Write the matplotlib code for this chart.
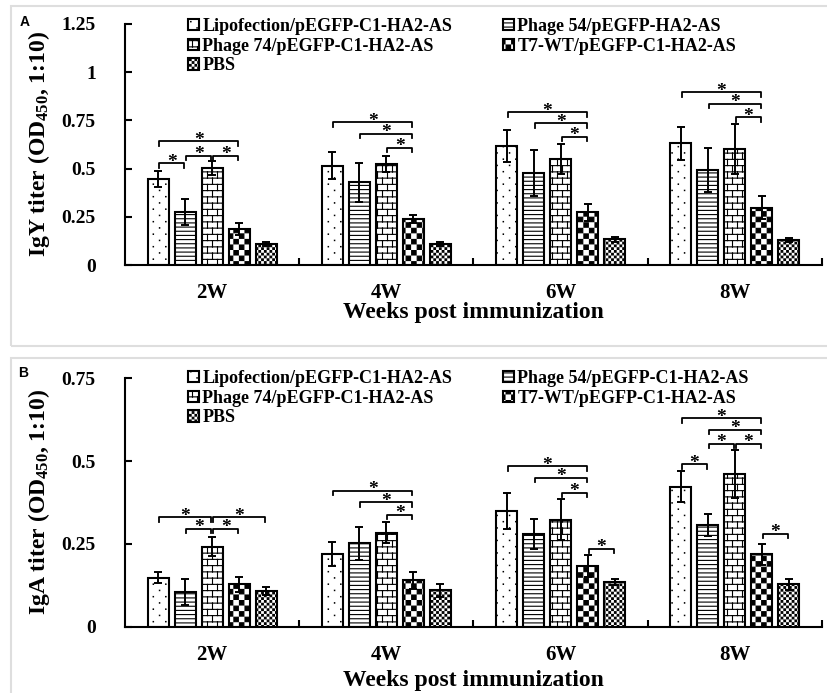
import numpy as np
import matplotlib
matplotlib.use('Agg')
import matplotlib.pyplot as plt
import matplotlib.hatch as mhatch
from matplotlib.path import Path
from matplotlib.patches import Rectangle

# ---- data ----
weeks = ['2W', '4W', '6W', '8W']
groups_a = ['Lipofection/pEGFP-C1-HA2-AS', 'Phage 54/pEGFP-HA2-AS',
            'Phage 74/pEGFP-C1-HA2-AS', 'T7-WT/pEGFP-C1-HA2-AS', 'PBS']
groups_b = ['Lipofection/pEGFP-C1-HA2-AS', 'Phage 54/pEGFP-C1-HA2-AS',
            'Phage 74/pEGFP-C1-HA2-AS', 'T7-WT/pEGFP-C1-HA2-AS', 'PBS']

# rows = groups, columns = weeks
igy_mean = [[0.446, 0.515, 0.617, 0.631],
            [0.275, 0.429, 0.479, 0.493],
            [0.503, 0.524, 0.550, 0.600],
            [0.187, 0.240, 0.273, 0.297],
            [0.107, 0.110, 0.133, 0.130]]
igy_err = [[0.040, 0.070, 0.083, 0.085],
           [0.067, 0.100, 0.120, 0.114],
           [0.037, 0.040, 0.080, 0.130],
           [0.033, 0.020, 0.043, 0.059],
           [0.010, 0.010, 0.013, 0.010]]

iga_mean = [[0.148, 0.219, 0.350, 0.423],
            [0.104, 0.252, 0.281, 0.307],
            [0.241, 0.284, 0.323, 0.461],
            [0.128, 0.140, 0.183, 0.219],
            [0.108, 0.110, 0.135, 0.128]]
iga_err = [[0.017, 0.037, 0.055, 0.046],
           [0.039, 0.050, 0.045, 0.033],
           [0.029, 0.032, 0.062, 0.073],
           [0.022, 0.025, 0.033, 0.032],
           [0.011, 0.020, 0.008, 0.017]]

# significance brackets: (week index, bar i, bar j, height)
igy_sig = [(0, 0, 1, 0.527), (0, 1, 2, 0.567), (0, 2, 3, 0.567), (0, 0, 3, 0.642),
           (1, 0, 3, 0.740), (1, 1, 3, 0.680), (1, 2, 3, 0.608),
           (2, 0, 3, 0.792), (2, 1, 3, 0.735), (2, 2, 3, 0.665),
           (3, 0, 3, 0.896), (3, 1, 3, 0.835), (3, 2, 3, 0.766)]
iga_sig = [(0, 0, 2, 0.330), (0, 2, 4, 0.330), (0, 1, 2, 0.296), (0, 2, 3, 0.296),
           (1, 0, 3, 0.411), (1, 1, 3, 0.375), (1, 2, 3, 0.338),
           (2, 0, 3, 0.484), (2, 1, 3, 0.450), (2, 2, 3, 0.405), (2, 3, 4, 0.235),
           (3, 0, 3, 0.630), (3, 1, 3, 0.595), (3, 1, 2, 0.552), (3, 2, 3, 0.552),
           (3, 0, 1, 0.491), (3, 3, 4, 0.280)]

igy_ticks = [0, 0.25, 0.5, 0.75, 1, 1.25]
igy_ticklabels = ['0', '0.25', '0.5', '0.75', '1', '1.25']
iga_ticks = [0, 0.25, 0.5, 0.75]
iga_ticklabels = ['0', '0.25', '0.5', '0.75']

hatches = ['.', '----', '|', '*', '**']

# ---- custom fill patterns (Excel-like: pin dots, bricks, checkerboards) ----
HATCH_LW = 0.8
SHRINK = HATCH_LW / 72.0


class BrickHatch(mhatch.HatchPatternBase):
    # '|' -> brick wall
    def __init__(self, hatch, density):
        n = hatch.count('|')
        self.rows = 16 * n
        self.cols = 10 * n
        self.num_vertices = 2 * (self.rows + (self.rows + 1) * self.cols) if n else 0

    def set_vertices_and_codes(self, vertices, codes):
        segs = []
        for k in range(self.rows):
            y = (k + 0.5) / self.rows
            segs.append(((0.0, y), (1.0, y)))
        for k in range(self.rows):
            y0 = (k + 0.5) / self.rows
            y1 = (k + 1.5) / self.rows
            off = 0.25 if k % 2 == 0 else 0.75
            for j in range(self.cols):
                x = (j + off) / self.cols
                if y1 > 1:
                    segs.append(((x, y0), (x, 1.0)))
                    segs.append(((x, 0.0), (x, y1 - 1)))
                else:
                    segs.append(((x, y0), (x, y1)))
        vertices[:] = np.array(segs).reshape(-1, 2)
        codes[0::2] = Path.MOVETO
        codes[1::2] = Path.LINETO


class SquaresHatch(mhatch.HatchPatternBase):
    # filled small squares on a grid, subclass decides the layout
    def _squares(self, vertices, codes, pts, side):
        out = []
        for (x, y) in pts:
            out += [(x, y), (x + side, y), (x + side, y + side), (x, y + side), (x, y)]
        vertices[:] = out
        codes[:] = np.tile([Path.MOVETO, Path.LINETO, Path.LINETO, Path.LINETO,
                            Path.CLOSEPOLY], len(pts))


class CheckerHatch(SquaresHatch):
    # '*' -> checkerboard, finer with more stars
    def __init__(self, hatch, density):
        n = hatch.count('*')
        self.cells = 18 * n
        self.num_vertices = 5 * (self.cells * self.cells // 2) if n else 0

    def set_vertices_and_codes(self, vertices, codes):
        c = 1.0 / self.cells
        pts = [(i * c + SHRINK / 2, j * c + SHRINK / 2)
               for i in range(self.cells) for j in range(self.cells) if (i + j) % 2 == 0]
        self._squares(vertices, codes, pts, c - SHRINK)


class DotHatch(SquaresHatch):
    # '.' -> sparse staggered pin dots
    def __init__(self, hatch, density):
        n = hatch.count('.')
        self.rows = 16 * n
        self.cols = 8 * n
        self.num_vertices = 5 * self.rows * self.cols if n else 0

    def set_vertices_and_codes(self, vertices, codes):
        pts = [((j + 0.25 + 0.5 * (k % 2)) / self.cols, (k + 0.5) / self.rows)
               for k in range(self.rows) for j in range(self.cols)]
        self._squares(vertices, codes, pts, 0.004)


mhatch._hatch_types = [mhatch.HorizontalHatch, BrickHatch, mhatch.NorthEastHatch,
                       mhatch.SouthEastHatch, mhatch.SmallCircles, mhatch.LargeCircles,
                       DotHatch, CheckerHatch]

plt.rcParams['font.family'] = 'Liberation Serif'
plt.rcParams['font.weight'] = 'bold'
plt.rcParams['axes.labelweight'] = 'bold'
plt.rcParams['mathtext.fontset'] = 'custom'
plt.rcParams['mathtext.rm'] = 'Liberation Serif:bold'
plt.rcParams['mathtext.bf'] = 'Liberation Serif:bold'
plt.rcParams['mathtext.default'] = 'rm'
plt.rcParams['hatch.linewidth'] = HATCH_LW
plt.rcParams['hatch.color'] = 'black'

fig = plt.figure(figsize=(8.27, 6.93), dpi=100)

# panel frames
fig.add_artist(Rectangle((0.0127, 0.5012), 1.0, 0.4901, transform=fig.transFigure,
                         fill=False, edgecolor='#dedede', lw=1.5))
fig.add_artist(Rectangle((0.0127, -0.02), 1.0, 0.5038, transform=fig.transFigure,
                         fill=False, edgecolor='#dedede', lw=1.5))

ax_a = fig.add_axes([0.1511, 0.6176, 0.8428, 0.3478])
ax_b = fig.add_axes([0.1511, 0.0957, 0.8428, 0.3584])

pitch = 0.155
width = 0.121
offsets = [(k - 2) * pitch for k in range(5)]


def draw_panel(ax, means, errs, sig, labels, ymax, ticks, ticklabels, ylabel,
               legend_top, xlabel_y):
    x = np.arange(len(weeks))
    bars = []
    for k in range(5):
        b = ax.bar(x + offsets[k], means[k], width, yerr=errs[k], color='white',
                   edgecolor='black', linewidth=1.5, hatch=hatches[k], label=labels[k],
                   error_kw=dict(ecolor='black', elinewidth=1.4, capsize=3.2, capthick=1.4))
        bars.append(b)

    tick = 0.018 * ymax
    for g, i, j, y in sig:
        x0 = g + offsets[i] + 0.006
        x1 = g + offsets[j] - 0.006
        ax.plot([x0, x0, x1, x1], [y - tick, y, y, y - tick], color='black', lw=1.3)
        ax.annotate('*', ((x0 + x1) / 2, y), xytext=(0, -2.5), textcoords='offset points',
                    ha='center', va='baseline', fontsize=14)

    ax.set_xlim(-0.5, 3.5)
    ax.set_ylim(0, ymax)
    ax.spines[['top', 'right']].set_visible(False)
    ax.spines['left'].set_linewidth(1.5)
    ax.spines['bottom'].set_linewidth(1.5)
    ax.set_yticks(ticks, ticklabels)
    ax.tick_params(axis='y', direction='in', length=5, width=1.5, pad=21, labelsize=14)
    ax.set_xticks(x, weeks)
    ax.tick_params(axis='x', which='major', length=0, pad=13, labelsize=15)
    ax.set_xticks([0.5, 1.5, 2.5, 3.5], minor=True)
    ax.tick_params(axis='x', which='minor', direction='in', length=5, width=1.5)

    ax.set_ylabel(ylabel, fontsize=17)
    ax.yaxis.set_label_coords(-0.105, 0.5)
    ax.set_xlabel('Weeks post immunization', fontsize=17)
    ax.xaxis.set_label_coords(0.5, xlabel_y)

    order = [0, 2, 4, 1, 3]
    ax.legend([bars[k] for k in order], [labels[k] for k in order], ncol=2,
              loc='upper left', bbox_to_anchor=(188 / 827, legend_top),
              bbox_transform=fig.transFigure, frameon=False, fontsize=13,
              handlelength=0.6, handleheight=0.6, handletextpad=0.2,
              columnspacing=2.8, labelspacing=0.15, borderpad=0, borderaxespad=0)


draw_panel(ax_a, igy_mean, igy_err, igy_sig, groups_a, 1.25, igy_ticks, igy_ticklabels,
           r'IgY titer (OD$_{450}$, 1:10)', 1 - 18 / 693, -0.152)
draw_panel(ax_b, iga_mean, iga_err, iga_sig, groups_b, 0.75, iga_ticks, iga_ticklabels,
           r'IgA titer (OD$_{450}$, 1:10)', 1 - 370 / 693, -0.175)

fig.text(25 / 827, 1 - 22 / 693, 'A', family='Liberation Sans', weight='bold',
         fontsize=10, ha='center', va='center')
fig.text(23 / 827, 1 - 373 / 693, 'B', family='Liberation Sans', weight='bold',
         fontsize=10, ha='center', va='center')

fig.savefig('out.png', dpi=100)
